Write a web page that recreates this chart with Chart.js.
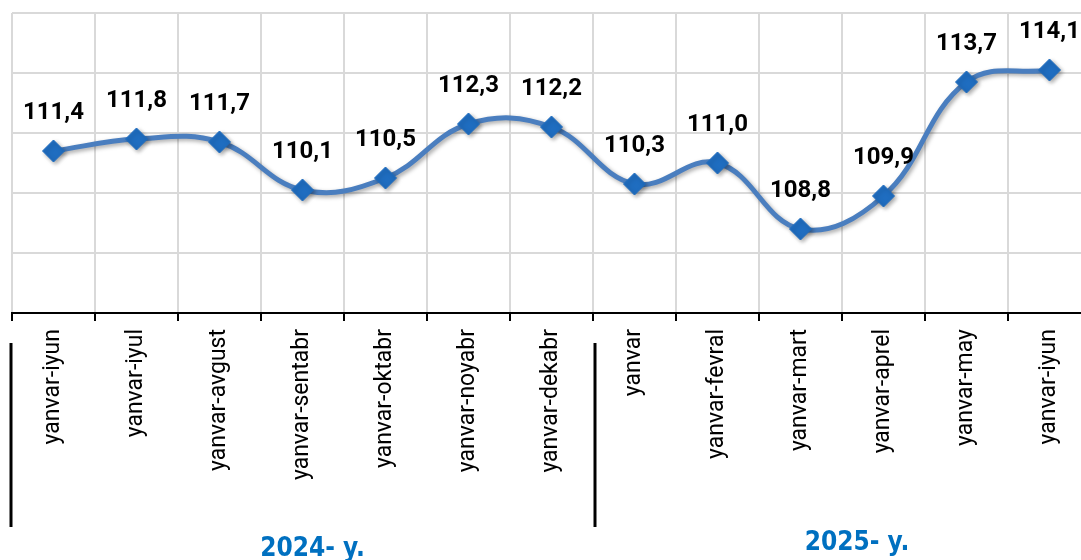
<!DOCTYPE html>
<html>
<head>
<meta charset="utf-8">
<script src="https://cdn.jsdelivr.net/npm/chart.js@4.4.1/dist/chart.umd.min.js"></script>
<style>
  html, body { margin: 0; padding: 0; overflow: hidden; background: #fff; }
  #wrap { width: 1103px; height: 560px; position: relative; }
</style>
</head>
<body>
<div id="wrap"><canvas id="myChart"></canvas></div>
<script>
// periods (cumulative since January)
var months = ['yanvar-iyun', 'yanvar-iyul', 'yanvar-avgust', 'yanvar-sentabr', 'yanvar-oktabr',
  'yanvar-noyabr', 'yanvar-dekabr', 'yanvar', 'yanvar-fevral', 'yanvar-mart', 'yanvar-aprel',
  'yanvar-may', 'yanvar-iyun'];
var values = [111.4, 111.8, 111.7, 110.1, 110.5, 112.3, 112.2, 110.3, 111.0, 108.8, 109.9, 113.7, 114.1];
var years = ['2024- y.', '2025- y.'];
var yearCounts = [7, 6];

// value labels above the markers + shadow on the line
var pointLabels = {
  id: 'pointLabels',
  beforeDatasetDraw: function (chart) {
    var c = chart.ctx;
    c.save();
    c.shadowColor = 'rgba(0,0,0,0.35)';
    c.shadowBlur = 4;
    c.shadowOffsetX = 2;
    c.shadowOffsetY = 2;
  },
  afterDatasetDraw: function (chart) {
    chart.ctx.restore();
  },
  afterDatasetsDraw: function (chart) {
    var c = chart.ctx;
    var meta = chart.getDatasetMeta(0);
    c.save();
    c.font = 'bold 24px Roboto, "Liberation Sans", sans-serif';
    c.fillStyle = '#000';
    c.textAlign = 'center';
    c.textBaseline = 'middle';
    meta.data.forEach(function (pt, i) {
      c.fillText(values[i].toFixed(1).replace('.', ','), pt.x, pt.y - 38);
    });
    c.restore();
  }
};

// year groups under the axis
var yearGroups = {
  id: 'yearGroups',
  afterDraw: function (chart) {
    var c = chart.ctx;
    var x = chart.scales.x;
    var start = 0;
    c.save();
    for (var g = 0; g < years.length; g++) {
      var left = x.getPixelForValue(start - 0.5);
      var right = x.getPixelForValue(start + yearCounts[g] - 0.5);
      // separator line
      c.strokeStyle = '#000';
      c.lineWidth = 3;
      c.beginPath();
      var lx = Math.round(left) + (g == 0 ? -1 : 2);
      c.moveTo(lx, 343);
      c.lineTo(lx, 527);
      c.stroke();
      c.font = 'bold 26px "Liberation Sans Narrow", "DejaVu Sans Condensed", sans-serif';
      c.fillStyle = '#0070C0';
      c.textAlign = 'center';
      c.textBaseline = 'middle';
      c.fillText(years[g], (left + right) / 2 + (g == 0 ? 10 : 15), g == 0 ? 549 : 543);
      start += yearCounts[g];
    }
    c.restore();
  }
};

const ctx = document.getElementById('myChart').getContext('2d');
const myChart = new Chart(ctx, {
  type: 'line',
  data: {
    labels: months,
    datasets: [{
      data: values,
      borderColor: '#4A7EBF',
      borderWidth: 5,
      tension: 0.4,
      pointStyle: 'rectRot',
      pointRadius: 11,
      pointBackgroundColor: '#1F6DC0',
      pointBorderColor: '#1F6DC0',
      pointBorderWidth: 1
    }]
  },
  options: {
    responsive: true,
    maintainAspectRatio: false,
    animation: false,
    layout: { padding: { left: 11, top: 13, right: 0, bottom: 0 } },
    plugins: { legend: { display: false }, tooltip: { enabled: false } },
    scales: {
      x: {
        offset: true,
        grid: {
          offset: true,
          color: '#D9D9D9',
          lineWidth: 2,
          tickColor: '#000',
          tickLength: 8,
          tickWidth: 2
        },
        border: { color: '#000', width: 2 },
        ticks: {
          minRotation: 90,
          maxRotation: 90,
          padding: 8,
          color: '#000',
          font: { family: 'Roboto, "Liberation Sans", sans-serif', size: 23 }
        },
        afterFit: function (scale) { scale.height = 247; }
      },
      y: {
        min: 106,
        max: 116,
        ticks: { stepSize: 2, display: false },
        grid: { color: '#D9D9D9', lineWidth: 2, drawTicks: false },
        border: { display: false },
        afterFit: function (scale) { scale.width = 0; }
      }
    }
  },
  plugins: [pointLabels, yearGroups]
});
</script>
</body>
</html>
